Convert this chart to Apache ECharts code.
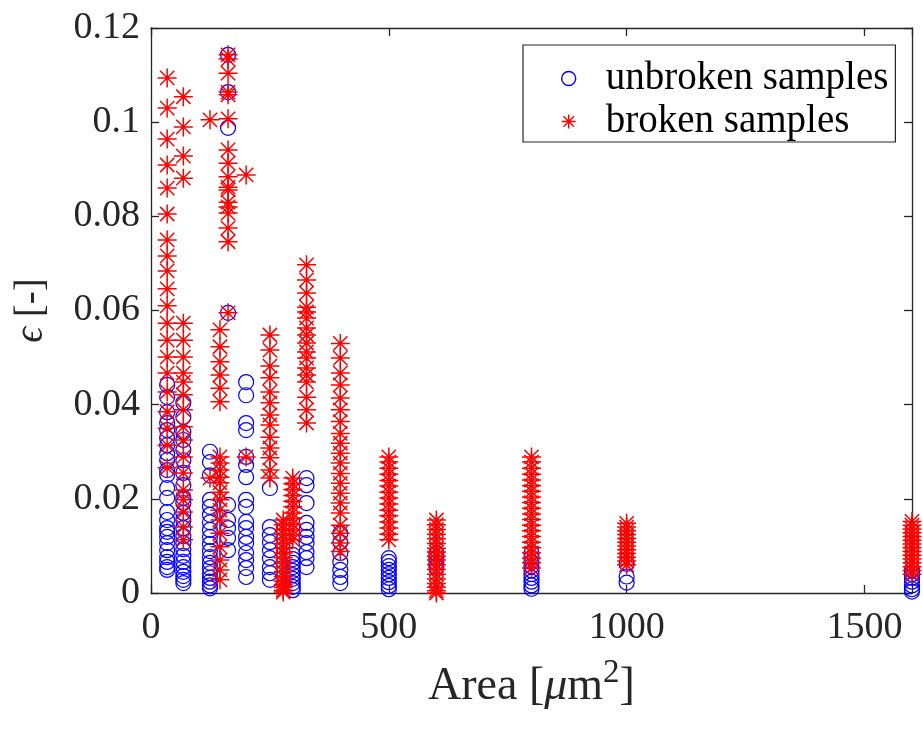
<!DOCTYPE html>
<html>
<head>
<meta charset="utf-8">
<script src="https://cdn.jsdelivr.net/npm/echarts@6/dist/echarts.min.js"></script>
<style>
html,body{margin:0;padding:0;background:#fff;}
#chart{width:923px;height:731px;}
</style>
</head>
<body>
<div id="chart"></div>
<script>
// Area of each sample group [µm^2]
const columnAreas = [34, 68, 124, 145, 162, 200, 250, 278, 298, 327, 398, 500, 600, 800, 1000, 1600];

// epsilon values of unbroken samples, one list per area group (same order as columnAreas)
const unbrokenEps = [
  [0.0442,0.0416,0.0384,0.0361,0.0346,0.0329,0.0314,0.0297,0.0282,0.0261,0.0251,0.0223,0.0202,0.0172,0.0155,0.0138,0.0130,0.0119,0.0106,0.0091,0.0076,0.0066,0.0055,0.0049],
  [0.0404,0.0374,0.0342,0.0325,0.0304,0.0282,0.0255,0.0229,0.0202,0.0191,0.017,0.0155,0.0138,0.0121,0.0106,0.0093,0.0079,0.0066,0.0055,0.0045,0.0036,0.0028,0.0021],
  [0.030,0.0278,0.025,0.0198,0.0183,0.0166,0.015,0.0134,0.0119,0.0104,0.0089,0.0076,0.0064,0.0053,0.0042,0.0032,0.0024,0.0016,0.001],
  [],
  [0.1143,0.1064,0.0988,0.0595,0.0187,0.0155,0.0138,0.0117,0.0091],
  [0.0448,0.042,0.0361,0.0346,0.0289,0.0272,0.0246,0.0198,0.0183,0.0151,0.0138,0.0119,0.0106,0.0085,0.007,0.0053,0.0034],
  [0.0223,0.014,0.0123,0.0108,0.0091,0.0074,0.0055,0.0042,0.0028],
  [],
  [0.0081,0.0072,0.0064,0.0055,0.0047,0.0038,0.003,0.0021,0.0013,0.0006],
  [0.0244,0.0229,0.0191,0.0149,0.0134,0.0119,0.0106,0.0087,0.0074,0.0055],
  [0.0127,0.0108,0.0085,0.0066,0.0049,0.0034,0.0021],
  [0.0074,0.0066,0.0057,0.0049,0.004,0.0032,0.0023,0.0015,0.0008],
  [0.0085,0.0075,0.0065,0.0055],
  [0.0085,0.0075,0.0066,0.0057,0.0048,0.004,0.0032,0.0024,0.0016,0.0009],
  [0.0062,0.0035,0.0022],
  [0.0049,0.004,0.0032,0.0024,0.0016,0.0008,0.0003]
];

// epsilon values of broken samples, one list per area group
const brokenEps = [
  [0.1094,0.103,0.0964,0.0909,0.086,0.0805,0.075,0.0716,0.0684,0.0646,0.061,0.0573,0.0537,0.0501,0.0467,0.0427,0.0385,0.035,0.0314,0.0266],
  [0.1054,0.099,0.0928,0.0881,0.0573,0.0537,0.0501,0.0467,0.0448,0.0421,0.0389,0.0353,0.0325,0.0289,0.0255,0.0219,0.0198,0.0172,0.014,0.0113],
  [0.1005,0.0244],
  [0.0559,0.0523,0.0491,0.0463,0.0435,0.0406,0.0289,0.0276,0.0261,0.0246,0.0234,0.0214,0.0198,0.0176,0.0155,0.0127,0.0098,0.007,0.0049,0.0028],
  [0.1143,0.1134,0.1104,0.1064,0.1058,0.1007,0.0941,0.0913,0.0884,0.0862,0.0856,0.083,0.082,0.0807,0.0775,0.0746,0.0595],
  [0.0888,0.0289],
  [0.0548,0.0516,0.0482,0.0457,0.0427,0.0404,0.0378,0.0357,0.0331,0.0308,0.0287,0.0261,0.0244],
  [0.0155,0.0145,0.0135,0.0125,0.0115,0.0105,0.0095,0.0085,0.0075,0.0065,0.0055,0.0045,0.0035,0.0025,0.0018,0.0012,0.0006,0.0002],
  [0.0244,0.0232,0.022,0.0207,0.0195,0.0183,0.017,0.0158,0.0146,0.0134,0.0122,0.0113],
  [0.0697,0.0665,0.0637,0.0607,0.0597,0.0584,0.0563,0.0548,0.0531,0.0512,0.0499,0.0478,0.0463,0.0448,0.0416,0.0389,0.0361],
  [0.0530,0.0499,0.0467,0.0442,0.0414,0.0389,0.0364,0.0339,0.0318,0.0297,0.0276,0.0254,0.0233,0.0212,0.0191,0.0170,0.0144,0.0127,0.0106,0.0088],
  [0.0289,0.0278,0.0265,0.0252,0.0239,0.0227,0.0214,0.0202,0.0189,0.0176,0.0164,0.0151,0.0138,0.0125,0.0113],
  [0.0155,0.0145,0.0135,0.0125,0.0115,0.0105,0.0095,0.0087,0.0078,0.007,0.006,0.005,0.004,0.003,0.002,0.0012,0.0005,0.0],
  [0.0289,0.0278,0.0265,0.0252,0.024,0.0228,0.0216,0.0204,0.0192,0.018,0.0168,0.0156,0.0144,0.0132,0.012,0.0108,0.0096,0.0085,0.0074,0.0064,0.0053],
  [0.0148,0.014,0.0132,0.0124,0.0116,0.0108,0.01,0.0092,0.0084,0.0076,0.0068,0.006],
  [0.0152,0.0144,0.0136,0.0128,0.012,0.0112,0.0104,0.0096,0.0088,0.008,0.0072,0.0064,0.0056,0.0048,0.004]
];

const seriesNames = ['unbroken samples', 'broken samples'];
const xTicks = [0, 500, 1000, 1500];

function toPoints(groups) {
  const pts = [];
  groups.forEach((vals, i) => vals.forEach(v => pts.push([columnAreas[i], v])));
  return pts;
}

const FONT = '"Liberation Serif", "Times New Roman", serif';
const AX = '#262626';
const STAR = 'path://M0,-10L0,10M-10,0L10,0M-7.5,-7.5L7.5,7.5M-7.5,7.5L7.5,-7.5';

const chart = echarts.init(document.getElementById('chart'), null, {renderer: 'canvas'});

const baseX = {
  type: 'value', min: 0, max: 1600, interval: 500,
  axisLine: {show: true, onZero: false, lineStyle: {color: AX, width: 1.3}},
  axisTick: {show: true, inside: true, length: 8, lineStyle: {color: AX, width: 1.3}},
  splitLine: {show: false}
};
const baseY = {
  type: 'value', min: 0, max: 0.12, interval: 0.02,
  axisLine: {show: true, onZero: false, lineStyle: {color: AX, width: 1.3}},
  axisTick: {show: true, inside: true, length: 8, lineStyle: {color: AX, width: 1.3}},
  splitLine: {show: false}
};

chart.setOption({
  animation: false,
  backgroundColor: '#fff',
  grid: {left: 151, right: 11, top: 28, bottom: 138, containLabel: false},
  xAxis: [
    Object.assign({}, baseX, {
      position: 'bottom',
      axisLabel: {show: true, color: AX, fontFamily: FONT, fontSize: 38, margin: 16,
        showMaxLabel: false, formatter: v => xTicks.includes(v) ? String(v) : ''},
      name: 'Area [{i|μ}m{sup|2}]',
      nameLocation: 'middle', nameGap: 64,
      nameTextStyle: {color: AX, fontFamily: FONT, fontSize: 46,
        rich: {
          i: {fontFamily: FONT, fontSize: 46, fontStyle: 'italic', color: AX},
          sup: {fontFamily: FONT, fontSize: 33, color: AX, verticalAlign: 'bottom', padding: [0, 0, 26, 0]}
        }}
    }),
    Object.assign({}, baseX, {position: 'top', axisLabel: {show: false}})
  ],
  yAxis: [
    Object.assign({}, baseY, {
      position: 'left',
      axisLabel: {show: true, color: AX, fontFamily: FONT, fontSize: 38, margin: 11,
        formatter: v => String(parseFloat(v.toFixed(4)))},
      name: '{i|ϵ} [-]',
      nameLocation: 'middle', nameGap: 100, nameRotate: 90,
      nameTextStyle: {color: AX, fontFamily: FONT, fontSize: 39,
        rich: {i: {fontFamily: FONT, fontSize: 39, fontStyle: 'italic', color: AX}}}
    }),
    Object.assign({}, baseY, {position: 'right', axisLabel: {show: false}})
  ],
  legend: {
    show: true,
    left: 523, top: 45,
    orient: 'vertical',
    padding: [14, 7, 1, 38],
    itemWidth: 64, itemHeight: 14, itemGap: 4,
    borderColor: AX, borderWidth: 1.2, backgroundColor: '#fff',
    textStyle: {fontFamily: FONT, fontSize: 39, color: '#000'},
    data: [
      {name: seriesNames[0], icon: 'circle', itemStyle: {color: 'rgba(0,0,0,0)', borderColor: '#0000ff', borderWidth: 1.4}},
      {name: seriesNames[1], icon: STAR, itemStyle: {color: 'rgba(0,0,0,0)', borderColor: '#ff0000', borderWidth: 1.4}}
    ]
  },
  series: [
    {
      name: seriesNames[0], type: 'scatter', xAxisIndex: 0, yAxisIndex: 0,
      symbol: 'circle', symbolSize: 15, clip: false,
      itemStyle: {color: 'rgba(0,0,0,0)', borderColor: '#0000ff', borderWidth: 1.2, opacity: 1},
      emphasis: {disabled: true},
      data: toPoints(unbrokenEps)
    },
    {
      name: seriesNames[1], type: 'scatter', xAxisIndex: 0, yAxisIndex: 0,
      symbol: STAR, symbolSize: 19, clip: false,
      itemStyle: {color: 'rgba(0,0,0,0)', borderColor: '#ff0000', borderWidth: 1.5, opacity: 1},
      emphasis: {disabled: true},
      data: toPoints(brokenEps)
    }
  ]
});
</script>
</body>
</html>
